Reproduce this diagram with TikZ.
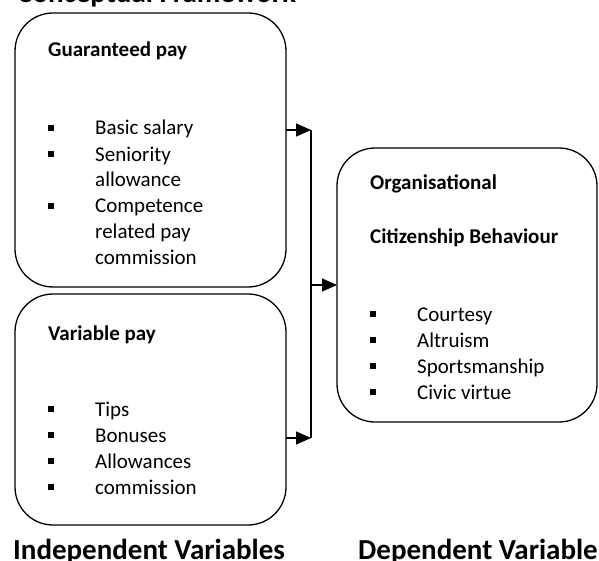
\documentclass[tikz,border=0pt]{standalone}
\usepackage{fontspec}
\setmainfont{Carlito}
\usepackage{tikz}
\usetikzlibrary{arrows.meta}
\tikzstyle{paybox} = [rectangle, draw, line width=1.3pt, rounded corners=38pt, inner sep=0pt, outer sep=0pt]
\tikzstyle{boxtext} = [anchor=base west, align=left, inner sep=0pt, font=\fontsize{21}{26}\selectfont]
\tikzstyle{caption} = [anchor=base west, inner sep=0pt, font=\fontsize{29}{34}\selectfont\bfseries]
\tikzstyle{arrow} = [-{Triangle[length=15pt,width=13pt]}, line width=1.3pt]
\newcommand{\sqitem}{\makebox[47pt][l]{\rule[4pt]{6pt}{6pt}}}
\newcommand{\contline}{\hspace*{47pt}}

\begin{document}
\begin{tikzpicture}[x=1pt, y=-1pt]
\useasboundingbox (0,0) rectangle (599,561);

% independent variables (left column)
\node[paybox, minimum width=271pt, minimum height=274pt] (gpay) at (150.5,150) {};
\node[paybox, minimum width=271pt, minimum height=231pt] (vpay) at (150.5,409.5) {};

% dependent variable
\node[paybox, minimum width=260pt, minimum height=274pt] (ocb) at (467,285) {};

% box contents (placed by the baseline of the last line)
\node[boxtext] (gpay_text) at (48,265) {\textbf{Guaranteed pay}\\[52pt]
  \sqitem Basic salary\\
  \sqitem Seniority\\
  \contline allowance\\
  \sqitem Competence\\
  \contline related pay\\
  \contline commission};
\node[boxtext] (vpay_text) at (48,494) {\textbf{Variable pay}\\[50pt]
  \sqitem Tips\\
  \sqitem Bonuses\\
  \sqitem Allowances\\
  \sqitem commission};
\node[boxtext] (ocb_text) at (370,399) {\textbf{Organisational}\\[28pt]
  \textbf{Citizenship Behaviour}\\[52pt]
  \sqitem Courtesy\\
  \sqitem Altruism\\
  \sqitem Sportsmanship\\
  \sqitem Civic virtue};

% headings
\node[caption] (title) at (17,3) {Conceptual Framework};
\node[caption] (indep) at (13,559) {Independent Variables};
\node[caption] (dep) at (358,559) {Dependent Variable};

% connectors
\coordinate (join_top) at (311,130);
\coordinate (join_bot) at (311,438);
\coordinate (join_mid) at (311,285);
\draw[arrow] (gpay.east |- join_top) -- (join_top);
\draw[arrow] (vpay.east |- join_bot) -- (join_bot);
\draw[line width=1.3pt] (join_top) -- (join_bot);
\draw[arrow] (join_mid) -- (ocb.west);

\end{tikzpicture}
\end{document}
